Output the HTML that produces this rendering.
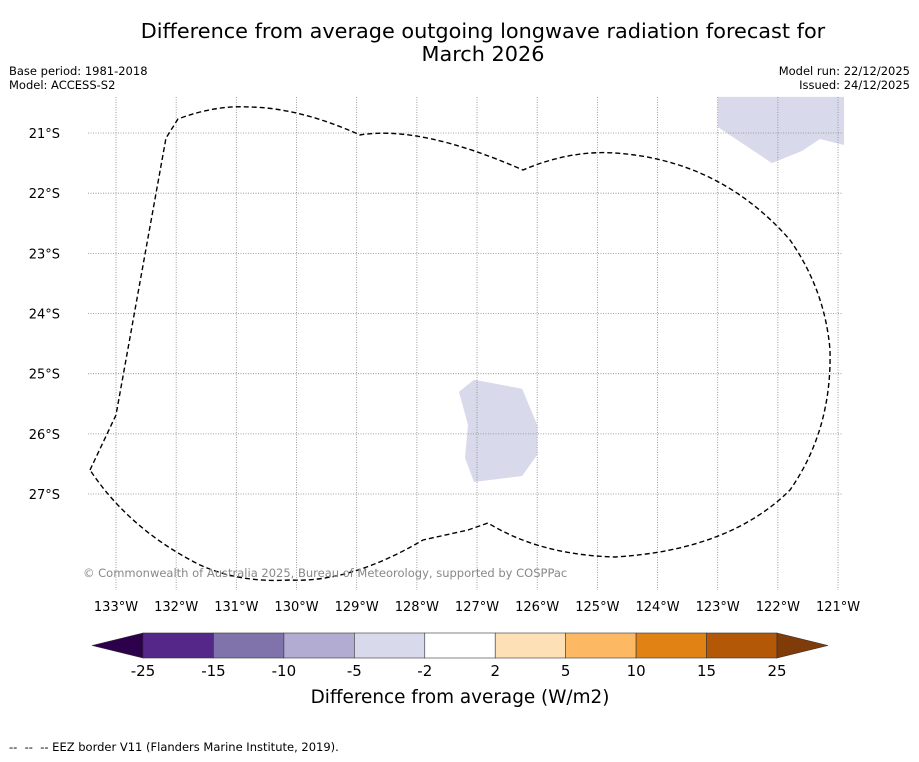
<!DOCTYPE html>
<html><head><meta charset="utf-8"><style>
body{margin:0;background:#fff;font-family:"DejaVu Sans","Liberation Sans",sans-serif;}
</style></head><body>
<svg width="919" height="758" xmlns="http://www.w3.org/2000/svg" font-family="DejaVu Sans, Liberation Sans, sans-serif">
<rect width="919" height="758" fill="#fff"/>
<text x="483" y="38" text-anchor="middle" font-size="20.8">Difference from average outgoing longwave radiation forecast for</text>
<text x="483" y="61" text-anchor="middle" font-size="20.8">March 2026</text>
<text x="9" y="75" font-size="11.5">Base period: 1981-2018</text>
<text x="9" y="89" font-size="11.5">Model: ACCESS-S2</text>
<text x="910" y="75" font-size="11.5" text-anchor="end">Model run: 22/12/2025</text>
<text x="910" y="89" font-size="11.5" text-anchor="end">Issued: 24/12/2025</text>
<g id="map"></g>
<g id="cbar"></g>
<text x="460" y="703" text-anchor="middle" font-size="18.4">Difference from average (W/m2)</text>
<text x="9" y="751" font-size="11.5" xml:space="preserve">--  --  -- EEZ border V11 (Flanders Marine Institute, 2019).</text>
</svg>
<script>
const lonTicks=[-133,-132,-131,-130,-129,-128,-127,-126,-125,-124,-123,-122,-121];
const latTicks=[-21,-22,-23,-24,-25,-26,-27];
const cbBounds=[-25,-15,-10,-5,-2,2,5,10,15,25];
const cbColors=["#542788","#8073ac","#b2abd2","#d8daeb","#ffffff","#fee0b6","#fdb863","#e08214","#b35806"];
const NS="http://www.w3.org/2000/svg";
const X0=88,X1=843,Y0=97,Y1=590;
function xs(lon){return 116+(lon+133)*60.17;}
function ys(lat){return 133+(-21-lat)*60.17;}
function mk(tag,attrs,parent){const e=document.createElementNS(NS,tag);for(const k in attrs)e.setAttribute(k,attrs[k]);parent.appendChild(e);return e;}
const map=document.getElementById('map');
const patchA=[[-123,-20.4],[-123,-20.9],[-122.4,-21.3],[-122.1,-21.5],[-121.6,-21.3],[-121.3,-21.1],[-120.9,-21.2],[-120.9,-20.4]];
const patchB=[[-127.3,-25.3],[-127.05,-25.1],[-126.25,-25.25],[-126.0,-25.85],[-126.0,-26.35],[-126.25,-26.7],[-127.05,-26.8],[-127.2,-26.4],[-127.15,-25.85]];
[patchA,patchB].forEach((p,i)=>{const e=mk('polygon',{points:p.map(q=>xs(q[0])+','+ys(q[1])).join(' '),fill:'#d8daeb'},map);

});
lonTicks.forEach(l=>{const x=xs(l);
const g=mk('line',{x1:x,x2:x,y1:Y0,y2:Y1,stroke:'#888','stroke-width':0.8,'stroke-dasharray':'1,1.5'},map);


const t=mk('text',{x:x,y:611,'text-anchor':'middle','font-size':13},map);t.textContent=Math.abs(l)+'°W';

});
latTicks.forEach(l=>{const y=ys(l);
const g=mk('line',{x1:X0,x2:X1,y1:y,y2:y,stroke:'#888','stroke-width':0.8,'stroke-dasharray':'1,1.5'},map);


const t=mk('text',{x:60,y:y+5,'text-anchor':'end','font-size':13},map);t.textContent=Math.abs(l)+'°S';

});
const eez=mk('path',{d:'M90,470 L116,415 L166,138 L178,119 Q215,105 250,107 Q300,108 360,135 Q420,125 523,170 Q570,150 615,153 Q720,160 790,240 Q825,290 830,350 Q832,430 790,490 Q730,550 615,557 Q540,555 488,523 L468,530 L423,540 Q350,583 290,580 Q240,583 200,565 Q130,530 90,470 Z',fill:'none',stroke:'#000','stroke-width':1.4,'stroke-dasharray':'5,3'},map);


const cp=mk('text',{x:83,y:577,'font-size':11.5,fill:'#888'},map);cp.textContent='© Commonwealth of Australia 2025, Bureau of Meteorology, supported by COSPPac';


const cb=document.getElementById('cbar');
const CX0=143,CX1=777,CY=633,CH=25,w=(CX1-CX0)/cbColors.length;
cbColors.forEach((c,i)=>{const r=mk('rect',{x:CX0+i*w,y:CY,width:w,height:CH,fill:c,stroke:'#333','stroke-width':0.6},cb);

});
const tl=mk('polygon',{points:`${CX0},${CY} 92,${CY+CH/2} ${CX0},${CY+CH}`,fill:'#2d004b',stroke:'#333','stroke-width':0.6},cb);


const tr=mk('polygon',{points:`${CX1},${CY} 828,${CY+CH/2} ${CX1},${CY+CH}`,fill:'#7f3b08',stroke:'#333','stroke-width':0.6},cb);


cbBounds.forEach((b,i)=>{const t=mk('text',{x:CX0+i*w,y:676,'text-anchor':'middle','font-size':15},cb);t.textContent=b;

});
</script>
</body></html>
